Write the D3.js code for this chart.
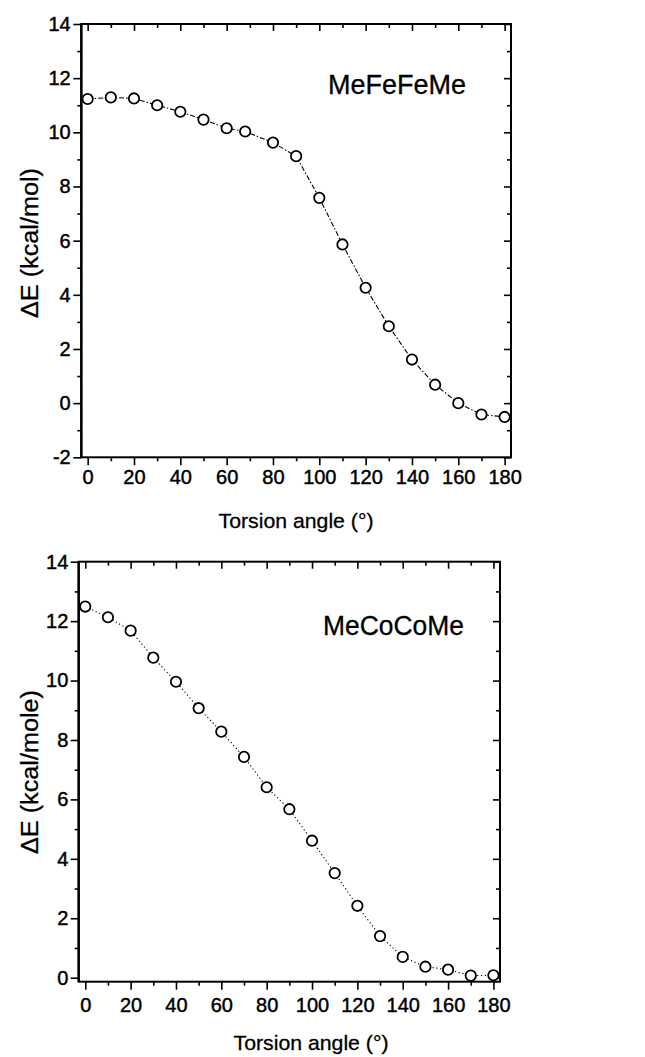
<!DOCTYPE html>
<html>
<head>
<meta charset="utf-8">
<script src="https://cdn.jsdelivr.net/npm/d3@7"></script>
<style>
  html, body { margin: 0; padding: 0; background: #fff; }
  svg { display: block; font-family: "Liberation Sans", Arial, Helvetica, sans-serif; }
</style>
</head>
<body>
<svg id="chart" width="645" height="1057"></svg>
<script>
// ---------- data ----------
const feAngles = [0, 10, 20, 30, 40, 50, 60, 68, 80, 90, 100, 110, 120, 130, 140, 150, 160, 170, 180];
const feEnergy = [11.23, 11.29, 11.25, 11.0, 10.76, 10.47, 10.15, 10.03, 9.62, 9.12, 7.58, 5.86, 4.26, 2.84, 1.61, 0.68, 0.0, -0.42, -0.51];
const coAngles = [0, 10, 20, 30, 40, 50, 60, 70, 80, 90, 100, 110, 120, 130, 140, 150, 160, 170, 180];
const coEnergy = [12.49, 12.13, 11.68, 10.77, 9.96, 9.07, 8.28, 7.43, 6.41, 5.67, 4.61, 3.52, 2.42, 1.40, 0.70, 0.37, 0.27, 0.07, 0.08];
const xMajorTicks = [0, 20, 40, 60, 80, 100, 120, 140, 160, 180];
const xMinorTicks = [10, 30, 50, 70, 90, 110, 130, 150, 170];
const feYMajorTicks = [-2, 0, 2, 4, 6, 8, 10, 12, 14];
const feYMinorTicks = [-1, 1, 3, 5, 7, 9, 11, 13];
const coYMajorTicks = [0, 2, 4, 6, 8, 10, 12, 14];
const coYMinorTicks = [1, 3, 5, 7, 9, 11, 13];
const xLabel = "Torsion angle (°)";
const feYLabel = "ΔE (kcal/mol)";
const coYLabel = "ΔE (kcal/mole)";
const feName = "MeFeFeMe";
const coName = "MeCoCoMe";

const svg = d3.select("#chart");
const fmt = d => String(d); // plain hyphen for negatives

function panel(cfg) {
  const g = svg.append("g");
  const x = d3.scaleLinear().domain(cfg.xDomain).range([cfg.left, cfg.right]);
  const y = d3.scaleLinear().domain(cfg.yDomain).range([cfg.bottom, cfg.top]);

  const styleAxis = sel => {
    sel.select(".domain").remove();
    sel.attr("font-size", 20).attr("font-family", "'Liberation Sans', Arial, sans-serif");
    sel.selectAll("line").attr("stroke", "#000").attr("stroke-width", 1.6);
    sel.selectAll("text").attr("fill", "#000").attr("font-size", 20)
       .attr("stroke", "#000").attr("stroke-width", 0.45);
  };

  // bottom axis (outward ticks + labels)
  g.append("g").attr("transform", `translate(0,${cfg.bottom})`)
    .call(d3.axisBottom(x).tickValues(xMajorTicks).tickSize(8).tickPadding(cfg.xPad).tickFormat(fmt))
    .call(styleAxis);
  g.append("g").attr("transform", `translate(0,${cfg.bottom})`)
    .call(d3.axisBottom(x).tickValues(xMinorTicks).tickSize(4).tickFormat(""))
    .call(styleAxis);
  // top axis (inward ticks)
  g.append("g").attr("transform", `translate(0,${cfg.top})`)
    .call(d3.axisBottom(x).tickValues(xMajorTicks).tickSize(7).tickFormat(""))
    .call(styleAxis);
  g.append("g").attr("transform", `translate(0,${cfg.top})`)
    .call(d3.axisBottom(x).tickValues(xMinorTicks).tickSize(4).tickFormat(""))
    .call(styleAxis);
  // left axis (outward)
  g.append("g").attr("transform", `translate(${cfg.left},0)`)
    .call(d3.axisLeft(y).tickValues(cfg.yMajor).tickSize(8).tickPadding(cfg.yPad).tickFormat(fmt))
    .call(styleAxis);
  g.append("g").attr("transform", `translate(${cfg.left},0)`)
    .call(d3.axisLeft(y).tickValues(cfg.yMinor).tickSize(4).tickFormat(""))
    .call(styleAxis);
  // right axis (inward)
  g.append("g").attr("transform", `translate(${cfg.right},0)`)
    .call(d3.axisLeft(y).tickValues(cfg.yMajor).tickSize(7).tickFormat(""))
    .call(styleAxis);
  g.append("g").attr("transform", `translate(${cfg.right},0)`)
    .call(d3.axisLeft(y).tickValues(cfg.yMinor).tickSize(4).tickFormat(""))
    .call(styleAxis);

  // frame
  g.append("rect")
    .attr("x", cfg.left).attr("y", cfg.top)
    .attr("width", cfg.right - cfg.left).attr("height", cfg.bottom - cfg.top)
    .attr("fill", "none").attr("stroke", "#000").attr("stroke-width", 2);
  g.append("line")
    .attr("x1", cfg.left).attr("x2", cfg.left).attr("y1", cfg.top).attr("y2", cfg.bottom)
    .attr("stroke", "#000").attr("stroke-width", 2.4);

  const pts = cfg.xs.map((d, i) => [d, cfg.ys[i]]);
  // connecting line
  g.append("path")
    .datum(pts)
    .attr("d", d3.line().x(d => x(d[0])).y(d => y(d[1])))
    .attr("fill", "none").attr("stroke", "#000").attr("stroke-width", 1.1)
    .attr("stroke-dasharray", cfg.dash);
  // markers
  g.selectAll("circle.pt").data(pts).enter().append("circle")
    .attr("class", "pt")
    .attr("cx", d => x(d[0])).attr("cy", d => y(d[1]))
    .attr("r", 5.2)
    .attr("fill", "#fff").attr("stroke", "#000").attr("stroke-width", 1.8);

  // x label
  g.append("text")
    .attr("x", cfg.xLabelX).attr("y", cfg.xLabelY)
    .attr("text-anchor", "middle").attr("font-size", 21)
    .attr("stroke", "#000").attr("stroke-width", 0.3)
    .attr("textLength", 155).attr("lengthAdjust", "spacingAndGlyphs")
    .text(xLabel);
  // y label
  g.append("text")
    .attr("transform", `translate(${cfg.yLabelX},${cfg.yLabelY}) rotate(-90)`)
    .attr("text-anchor", "middle").attr("font-size", 23)
    .attr("stroke", "#000").attr("stroke-width", 0.3)
    .attr("textLength", cfg.yLabelLen).attr("lengthAdjust", "spacingAndGlyphs")
    .text(cfg.yLabel);
  // name
  g.append("text")
    .attr("x", cfg.nameX).attr("y", cfg.nameY)
    .attr("font-size", 27)
    .attr("stroke", "#000").attr("stroke-width", 0.3)
    .attr("textLength", cfg.nameLen).attr("lengthAdjust", "spacingAndGlyphs")
    .text(cfg.name);
}

panel({
  left: 81.3, right: 511, top: 24, bottom: 457.3,
  xDomain: [-2.75, 182.75], yDomain: [-2, 14],
  yMajor: feYMajorTicks, yMinor: feYMinorTicks,
  xs: feAngles, ys: feEnergy,
  dash: "5,2,1.5,2",
  xPad: 4.7, yPad: 2.6,
  xLabelX: 296, xLabelY: 528,
  yLabelX: 38, yLabelY: 243, yLabelLen: 150, yLabel: feYLabel,
  nameX: 328, nameY: 94, nameLen: 138, name: feName
});

panel({
  left: 78.7, right: 500, top: 561.7, bottom: 981.7,
  xDomain: [-2.9, 182.9], yDomain: [-0.135, 14],
  yMajor: coYMajorTicks, yMinor: coYMinorTicks,
  xs: coAngles, ys: coEnergy,
  dash: "1.2,2.6",
  xPad: 8.6, yPad: 2.4,
  xLabelX: 311, xLabelY: 1050,
  yLabelX: 38, yLabelY: 772, yLabelLen: 164, yLabel: coYLabel,
  nameX: 323, nameY: 635, nameLen: 141, name: coName
});
</script>
</body>
</html>
